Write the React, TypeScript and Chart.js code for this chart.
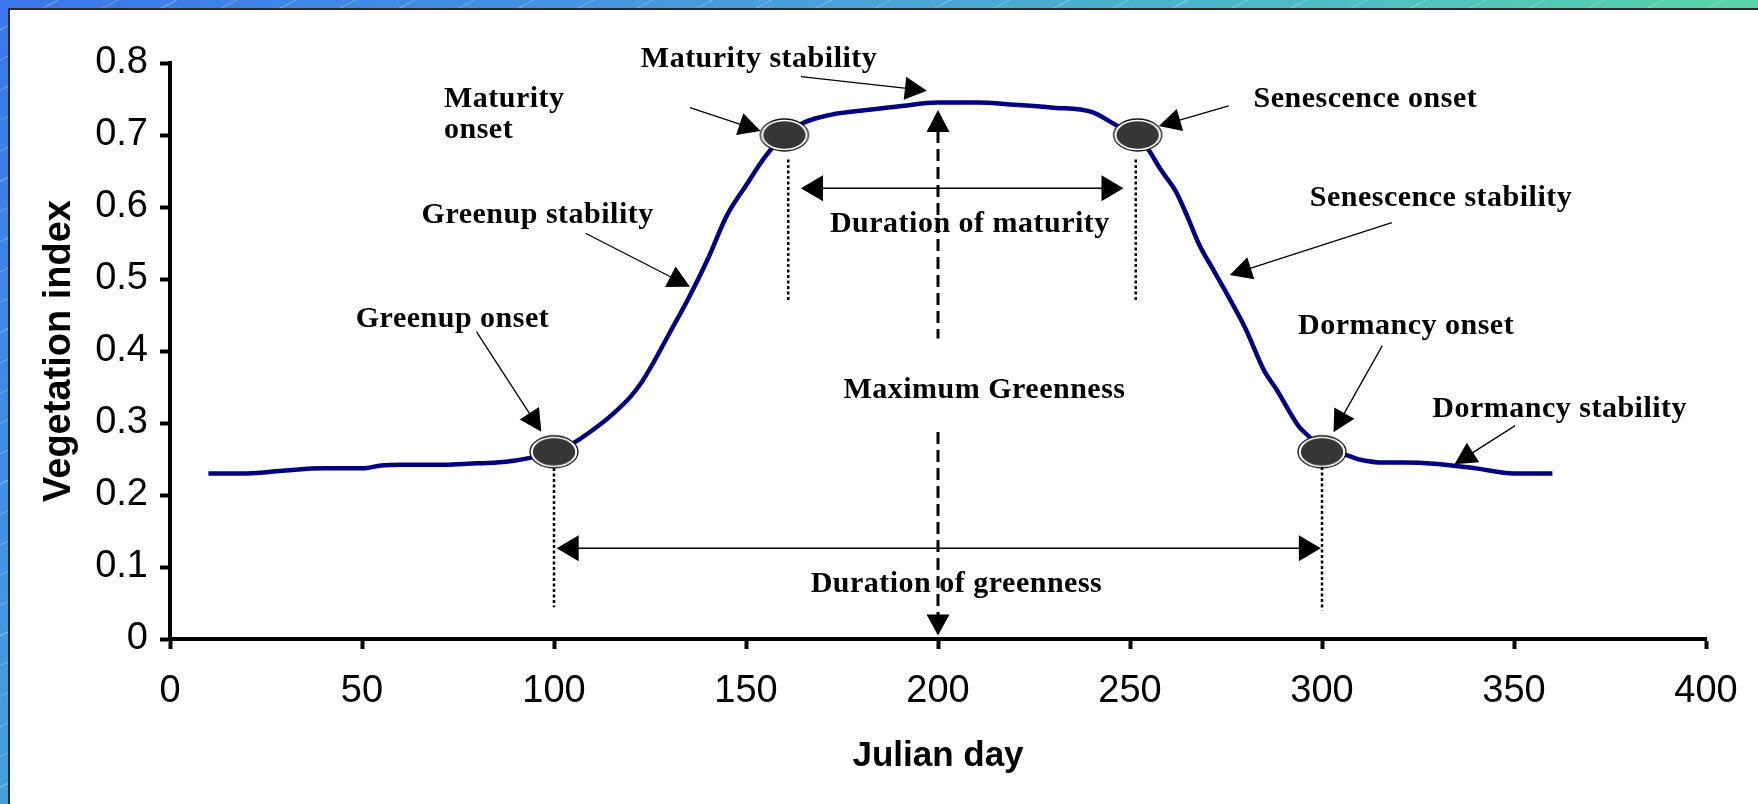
import React, { useEffect, useRef } from 'react';
import { Chart, registerables } from 'chart.js';

Chart.register(...registerables);

// ---------- data ----------
const days = [10, 20, 30, 40, 50, 55, 60, 70, 80, 85, 90, 95, 100, 105, 110, 115, 120, 123, 126, 130, 135, 140, 145, 150, 155, 160, 165, 172, 182, 190, 200, 210, 220, 230, 240, 247, 252, 255, 258, 262, 265, 268, 272, 276, 280, 285, 288, 294, 297, 300, 305, 310, 316, 321, 330, 340, 350, 360];
const values = [0.230, 0.230, 0.234, 0.237, 0.237, 0.241, 0.242, 0.242, 0.244, 0.245, 0.248, 0.253, 0.259, 0.272, 0.290, 0.311, 0.337, 0.358, 0.385, 0.424, 0.473, 0.527, 0.588, 0.630, 0.670, 0.700, 0.717, 0.728, 0.735, 0.740, 0.745, 0.745, 0.742, 0.738, 0.732, 0.712, 0.700, 0.678, 0.652, 0.621, 0.586, 0.548, 0.510, 0.472, 0.432, 0.372, 0.348, 0.295, 0.279, 0.259, 0.257, 0.249, 0.245, 0.245, 0.243, 0.237, 0.230, 0.230];

const markerDays = [100, 160, 252, 300];
const markerValues = [0.26, 0.70, 0.70, 0.26];

const xTickLabels = ['0', '50', '100', '150', '200', '250', '300', '350', '400'];
const yTickLabels = ['0', '0.1', '0.2', '0.3', '0.4', '0.5', '0.6', '0.7', '0.8'];

// annotation texts (anchor in data units)
const noteTexts = ['Maturity stability', 'Maturity', 'onset', 'Senescence onset', 'Senescence stability', 'Greenup stability', 'Greenup onset', 'Maximum Greenness', 'Duration of maturity', 'Duration of greenness', 'Dormancy onset', 'Dormancy stability'];
const noteDays = [153.4, 71.35, 71.35, 311.3, 331.0, 95.75, 73.57, 212.1, 208.3, 204.8, 321.9, 361.9];
const noteValues = [0.7944, 0.7389, 0.6958, 0.7389, 0.6018, 0.5782, 0.4338, 0.3343, 0.5657, 0.0657, 0.4236, 0.3088];
const noteAligns = ['center', 'left', 'left', 'center', 'center', 'center', 'center', 'center', 'center', 'center', 'center', 'center'];

// pointer arrows (from -> tip)
const arrowFromDays = [164.3, 135.4, 275.7, 318.2, 108.2, 79.8, 315.7, 350.3];
const arrowFromValues = [0.781, 0.738, 0.7403, 0.5782, 0.5635, 0.4268, 0.4074, 0.2963];
const arrowToDays = [197.1, 153.8, 257.5, 276.0, 135.4, 96.7, 303.0, 334.5];
const arrowToValues = [0.7615, 0.7056, 0.7125, 0.5056, 0.4893, 0.2879, 0.2871, 0.2426];

// dotted vertical guides
const dotDays = [100, 161, 251.5, 300];
const dotTopValues = [0.2375, 0.666, 0.666, 0.239];
const dotBottomValues = [0.044, 0.470, 0.470, 0.040];

// maximum greenness dashed arrow
const maxGreenDay = 200;
const maxGreenUpper = [0.7347, 0.4172];
const maxGreenLower = [0.2875, 0.005];

// duration double arrows
const durationValues = [0.626, 0.126];
const durationStartDays = [164.3, 100.7];
const durationEndDays = [248.3, 299.7];

function makeMarker(): HTMLCanvasElement {
  const c = document.createElement('canvas');
  c.width = 52;
  c.height = 36;
  const g = c.getContext('2d')!;
  g.beginPath();
  g.ellipse(26, 18, 24, 16, 0, 0, Math.PI * 2);
  g.fillStyle = '#ffffff';
  g.fill();
  g.lineWidth = 1.3;
  g.strokeStyle = '#111';
  g.stroke();
  g.beginPath();
  g.ellipse(26, 18, 21.2, 13.8, 0, 0, Math.PI * 2);
  g.fillStyle = '#363636';
  g.fill();
  return c;
}

function head(ctx: CanvasRenderingContext2D, tx: number, ty: number, ang: number, len: number, half: number) {
  const bx = tx - Math.cos(ang) * len;
  const by = ty - Math.sin(ang) * len;
  const nx = -Math.sin(ang);
  const ny = Math.cos(ang);
  ctx.beginPath();
  ctx.moveTo(tx, ty);
  ctx.lineTo(bx + nx * half, by + ny * half);
  ctx.lineTo(bx - nx * half, by - ny * half);
  ctx.closePath();
  ctx.fill();
}

const notesPlugin = {
  id: 'phenologyNotes',
  afterDatasetsDraw(chart: any) {
    const { ctx } = chart;
    const xs = chart.scales.x;
    const ys = chart.scales.y;
    const px = (d: number) => xs.getPixelForValue(d);
    const py = (v: number) => ys.getPixelForValue(v);
    ctx.save();
    ctx.fillStyle = '#000';
    ctx.strokeStyle = '#000';

    // dotted guides
    ctx.lineWidth = 2.5;
    ctx.setLineDash([3, 2.5]);
    for (let i = 0; i < dotDays.length; i++) {
      ctx.beginPath();
      ctx.moveTo(px(dotDays[i]), py(dotTopValues[i]));
      ctx.lineTo(px(dotDays[i]), py(dotBottomValues[i]));
      ctx.stroke();
    }

    // maximum greenness dashed line with arrows
    const mx = px(maxGreenDay);
    ctx.lineWidth = 3;
    ctx.setLineDash([12, 6]);
    ctx.beginPath();
    ctx.moveTo(mx, py(maxGreenUpper[0]) + 21);
    ctx.lineTo(mx, py(maxGreenUpper[1]));
    ctx.stroke();
    ctx.beginPath();
    ctx.moveTo(mx, py(maxGreenLower[0]));
    ctx.lineTo(mx, py(maxGreenLower[1]) - 20);
    ctx.stroke();
    ctx.setLineDash([]);
    head(ctx, mx, py(maxGreenUpper[0]), -Math.PI / 2, 22, 11.5);
    head(ctx, mx, py(maxGreenLower[1]), Math.PI / 2, 21, 11.5);

    // duration double arrows
    ctx.lineWidth = 1.5;
    for (let i = 0; i < durationValues.length; i++) {
      const yy = py(durationValues[i]);
      const x1 = px(durationStartDays[i]);
      const x2 = px(durationEndDays[i]);
      ctx.beginPath();
      ctx.moveTo(x1 + 20, yy);
      ctx.lineTo(x2 - 20, yy);
      ctx.stroke();
      head(ctx, x1, yy, Math.PI, 22, 13);
      head(ctx, x2, yy, 0, 22, 13);
    }

    // pointer arrows
    ctx.lineWidth = 1.3;
    for (let i = 0; i < arrowFromDays.length; i++) {
      const x1 = px(arrowFromDays[i]);
      const y1 = py(arrowFromValues[i]);
      const x2 = px(arrowToDays[i]);
      const y2 = py(arrowToValues[i]);
      const ang = Math.atan2(y2 - y1, x2 - x1);
      ctx.beginPath();
      ctx.moveTo(x1, y1);
      ctx.lineTo(x2 - Math.cos(ang) * 18, y2 - Math.sin(ang) * 18);
      ctx.stroke();
      head(ctx, x2, y2, ang, 22, 11.5);
    }

    // texts
    ctx.font = 'bold 30px "Liberation Serif", "Times New Roman", serif';
    try { (ctx as any).letterSpacing = '0.5px'; } catch (e) {}
    ctx.textBaseline = 'alphabetic';
    for (let i = 0; i < noteTexts.length; i++) {
      ctx.textAlign = noteAligns[i] as CanvasTextAlign;
      ctx.fillText(noteTexts[i], px(noteDays[i]), py(noteValues[i]));
    }
    ctx.restore();
  },
};

export default function App() {
  const canvasRef = useRef<HTMLCanvasElement | null>(null);

  useEffect(() => {
    const canvas = canvasRef.current;
    if (!canvas) return;
    const marker = makeMarker();
    const chart = new Chart(canvas, {
      type: 'line',
      data: {
        datasets: [
          {
            type: 'scatter',
            label: 'Phenology markers',
            data: markerDays.map((d, i) => ({ x: d, y: markerValues[i] })),
            pointStyle: marker as any,
            pointRadius: 16,
            showLine: false,
            order: 0,
          } as any,
          {
            type: 'line',
            label: 'Vegetation index',
            data: days.map((d, i) => ({ x: d, y: values[i] })),
            borderColor: '#000080',
            borderWidth: 4.5,
            pointRadius: 0,
            fill: false,
            cubicInterpolationMode: 'monotone',
            borderJoinStyle: 'round',
            borderCapStyle: 'butt',
            order: 1,
          } as any,
        ],
      },
      options: {
        responsive: false,
        maintainAspectRatio: false,
        devicePixelRatio: 1,
        animation: false,
        layout: { padding: { top: 63, right: 52, left: 0, bottom: 0 } },
        plugins: {
          legend: { display: false },
          tooltip: { enabled: false },
        },
        scales: {
          x: {
            type: 'linear',
            min: 0,
            max: 400,
            afterFit: (s: any) => { s.height = 165; },
            ticks: {
              stepSize: 50,
              color: '#000',
              padding: 20,
              font: { family: '"Liberation Sans", Arial, sans-serif', size: 38 },
              callback: (_v: any, i: number) => xTickLabels[i],
            },
            grid: { display: true, drawOnChartArea: false, drawTicks: true, tickLength: 10, tickWidth: 4, tickColor: '#000', color: '#000' },
            border: { display: true, color: '#000', width: 4 },
            title: {
              display: true,
              text: 'Julian day',
              color: '#000',
              font: { family: '"Liberation Sans", Arial, sans-serif', size: 35, weight: 'bold' },
              padding: { top: 0, bottom: 27 },
            },
          },
          y: {
            type: 'linear',
            min: 0,
            max: 0.8,
            afterFit: (s: any) => { s.width = 170; },
            ticks: {
              stepSize: 0.1,
              color: '#000',
              padding: 12,
              font: { family: '"Liberation Sans", Arial, sans-serif', size: 38 },
              callback: (_v: any, i: number) => yTickLabels[i],
            },
            grid: { display: true, drawOnChartArea: false, drawTicks: true, tickLength: 10, tickWidth: 4, tickColor: '#000', color: '#000' },
            border: { display: true, color: '#000', width: 4 },
            title: {
              display: true,
              text: 'Vegetation index',
              color: '#000',
              font: { family: '"Liberation Sans", Arial, sans-serif', size: 38, weight: 'bold' },
              padding: { top: 37, bottom: 0 },
            },
          },
        },
      },
      plugins: [notesPlugin],
    });
    return () => chart.destroy();
  }, []);

  return (
    <div
      style={{
        position: 'fixed',
        left: 0,
        top: 0,
        width: 1758,
        height: 804,
        overflow: 'hidden',
        background:
          'repeating-linear-gradient(153deg, rgba(255,255,255,0) 0px, rgba(255,255,255,0) 26px, rgba(255,255,255,0.28) 26px, rgba(255,255,255,0.28) 27px), linear-gradient(135deg, #3a76ec 0%, #4494e2 23%, #4ab6cc 47%, #58d5a8 68.6%, #62e090 100%)',
      }}
    >
      <div
        style={{
          position: 'absolute',
          left: 8,
          top: 8,
          right: 0,
          bottom: 0,
          background: '#ffffff',
          borderLeft: '2px solid #2b2b2b',
          borderTop: '2px solid #2b2b2b',
        }}
      />
      <canvas
        ref={canvasRef}
        width={1758}
        height={804}
        style={{ position: 'absolute', left: 0, top: 0, width: 1758, height: 804 }}
      />
    </div>
  );
}
